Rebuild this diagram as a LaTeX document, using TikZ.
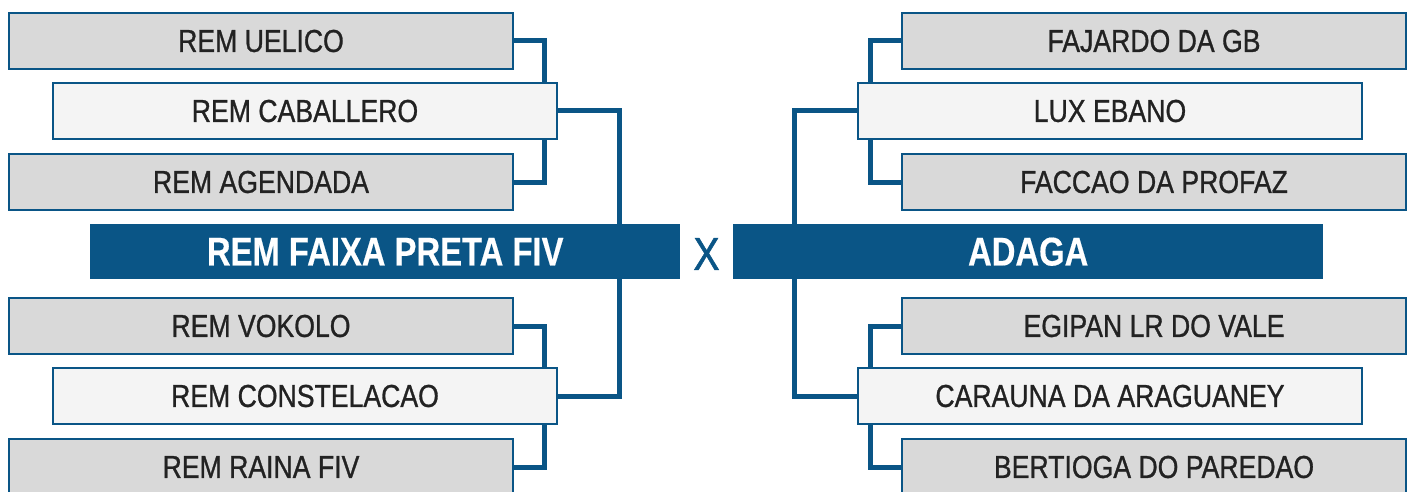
\documentclass[tikz,border=0pt]{standalone}
\usepackage{fontspec}
\setmainfont{Liberation Sans}
\newfontfamily\boxfont[FakeStretch=0.84,FakeBold=0.9]{Liberation Sans}
\newfontfamily\barfont[FakeStretch=0.82,FakeBold=0.4]{Liberation Sans}
\newfontfamily\vsfont[FakeStretch=0.85,FakeBold=1.2]{Liberation Sans}
\definecolor{navy}{HTML}{0A5586}
\definecolor{boxgray}{HTML}{D9D9D9}
\definecolor{boxlight}{HTML}{F4F4F4}
\definecolor{ink}{HTML}{222222}
\pgfdeclarelayer{bg}
\pgfsetlayers{bg,main}
\tikzset{
  team/.style={draw=navy, line width=2pt, minimum width=504pt, minimum height=56pt,
    inner sep=0pt, anchor=north west, text=ink,
    font=\boxfont\fontsize{31.7}{32}\selectfont},
  outerteam/.style={team, fill=boxgray},
  innerteam/.style={team, fill=boxlight},
  finalist/.style={fill=navy, minimum width=590pt, minimum height=55pt, inner sep=0pt,
    anchor=north west, text=white, font=\barfont\bfseries\fontsize{40}{40}\selectfont},
  link/.style={draw=navy, line width=5pt}
}
\begin{document}
\begin{tikzpicture}[x=1pt,y=-1pt]
\useasboundingbox (0,0) rectangle (1411,492);
% left top group
\node[outerteam] (uelico) at (8,12) {REM UELICO};
\node[innerteam] (caballero) at (52,82) {REM CABALLERO};
\node[outerteam] (agendada) at (8,153) {REM AGENDADA};
% finalists
\node[finalist] (faixa) at (90,224) {REM FAIXA PRETA FIV};
\node[text=navy, font=\vsfont\fontsize{46}{46}\selectfont, inner sep=0pt] (vs) at (706.5,254) {X};
\node[finalist] (adaga) at (733,224) {ADAGA};
% left bottom group
\node[outerteam] (vokolo) at (8,297) {REM VOKOLO};
\node[innerteam] (constelacao) at (52,367) {REM CONSTELACAO};
\node[outerteam] (raina) at (8,438) {REM RAINA FIV};
% right top group
\node[outerteam] (fajardo) at (901,12) {FAJARDO DA GB};
\node[innerteam] (lux) at (857,82) {LUX EBANO};
\node[outerteam] (faccao) at (901,153) {FACCAO DA PROFAZ};
% right bottom group
\node[outerteam] (egipan) at (901,297) {EGIPAN LR DO VALE};
\node[innerteam] (carauna) at (857,367) {CARAUNA DA ARAGUANEY};
\node[outerteam] (bertioga) at (901,438) {BERTIOGA DO PAREDAO};
\begin{pgfonlayer}{bg}
\fill[white] (0,0) rectangle (1411,492);
\draw[link] (uelico.east) -- ++(30.5,0) |- (agendada.east);
\draw[link] (caballero.east) -| ([xshift=234pt]faixa.north);
\draw[link] (vokolo.east) -- ++(30.5,0) |- (raina.east);
\draw[link] (constelacao.east) -| ([xshift=234pt]faixa.south);
\draw[link] (fajardo.west) -- ++(-30.5,0) |- (faccao.west);
\draw[link] (lux.west) -| ([xshift=-234pt]adaga.north);
\draw[link] (egipan.west) -- ++(-30.5,0) |- (bertioga.west);
\draw[link] (carauna.west) -| ([xshift=-234pt]adaga.south);
\end{pgfonlayer}
\end{tikzpicture}
\end{document}
